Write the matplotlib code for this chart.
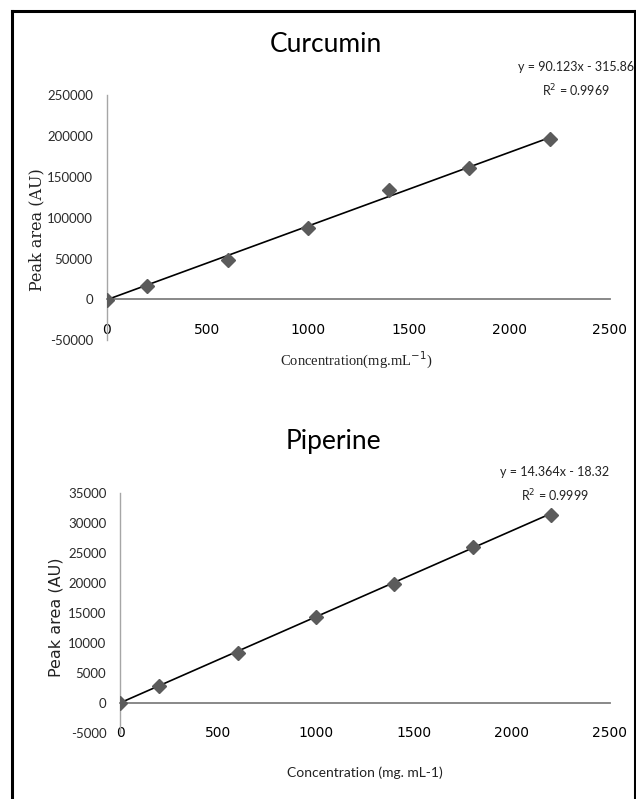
import numpy as np
import matplotlib
matplotlib.use("Agg")
import matplotlib.pyplot as plt
from matplotlib.lines import Line2D

# Curcumin calibration data
conc = [0, 200, 600, 1000, 1400, 1800, 2200]
curcumin_area = [-1000, 16300, 48100, 86900, 133800, 160300, 195800]
curcumin_fit = (90.123, -315.86)
curcumin_r2 = "0.9969"

# Piperine calibration data
piperine_area = [0, 2780, 8310, 14380, 19750, 25960, 31330]
piperine_fit = (14.364, -18.32)
piperine_r2 = "0.9999"

curcumin_yticks = [-50000, 0, 50000, 100000, 150000, 200000, 250000]
piperine_yticks = [-5000, 0, 5000, 10000, 15000, 20000, 25000, 30000, 35000]
xticks = [0, 500, 1000, 1500, 2000, 2500]

tick_font = ["Liberation Sans Narrow", "Lato", "DejaVu Sans"]
calibri = ["Lato", "DejaVu Sans"]

fig = plt.figure(figsize=(6.36, 7.99), dpi=100)


def draw_panel(rect, x, y, fit, r2, yticks, title, title_xy, eq_xy, ylabel_cfg, xlabel_cfg):
    ax = fig.add_axes(rect)
    slope, icpt = fit
    xs = np.array(x)
    ax.plot(xs, slope * xs + icpt, color="black", lw=1.2, zorder=3)
    ax.plot(x, y, "D", color="#5b5b5b", markersize=7, zorder=4)
    ax.set_xlim(0, 2500)
    ax.set_ylim(yticks[0], yticks[-1])
    ax.set_xticks(xticks)
    ax.set_yticks(yticks)
    ax.set_xticklabels([str(t) for t in xticks], family=tick_font, fontsize=9.5, color="#2a2a2a")
    ax.set_yticklabels([str(t) for t in yticks], family=tick_font, fontsize=9.5, color="#2a2a2a")
    ax.tick_params(axis="x", length=0, pad=17)
    ax.tick_params(axis="y", length=0, pad=10)
    for s in ["top", "right"]:
        ax.spines[s].set_visible(False)
    ax.spines["bottom"].set_position(("data", 0))
    ax.spines["bottom"].set_color("#7f7f7f")
    ax.spines["bottom"].set_linewidth(1.3)
    ax.spines["left"].set_color("#a6a6a6")
    ax.spines["left"].set_linewidth(1.0)
    ax.patch.set_alpha(0)

    fig.text(title_xy[0], title_xy[1], title, ha="center", va="center",
             fontsize=19, family=calibri)
    sign = "-" if icpt < 0 else "+"
    fig.text(eq_xy[0], eq_xy[1], f"y = {slope}x {sign} {abs(icpt)}", ha="center",
             va="center", fontsize=9, family=tick_font, color="#222222")
    fig.text(eq_xy[0], eq_xy[1] - 0.029, f"R$^2$ = {r2}", ha="center",
             va="center", fontsize=9, family=tick_font, color="#222222")
    fig.text(*ylabel_cfg[0], ylabel_cfg[1], rotation=90, ha="center", va="center",
             fontsize=ylabel_cfg[3], family=ylabel_cfg[2], color="#222222")
    fig.text(*xlabel_cfg[0], xlabel_cfg[1], ha="center", va="center",
             fontsize=xlabel_cfg[3], family=xlabel_cfg[2], color="#222222")
    return ax


draw_panel([0.168, 0.574, 0.791, 0.307], conc, curcumin_area, curcumin_fit, curcumin_r2,
           curcumin_yticks, "Curcumin", (0.512, 0.944), (0.905, 0.916),
           ((0.058, 0.712), "Peak area (AU)", ["DejaVu Serif"], 11.5),
           ((0.56, 0.549), "Concentration(mg.mL$^{-1}$)", ["Liberation Serif"], 10.5))

draw_panel([0.189, 0.083, 0.770, 0.300], conc, piperine_area, piperine_fit, piperine_r2,
           piperine_yticks, "Piperine", (0.524, 0.447), (0.872, 0.409),
           ((0.088, 0.228), "Peak area (AU)", ["DejaVu Sans"], 11.5),
           ((0.573, 0.033), "Concentration (mg. mL-1)", tick_font, 10))

# black frame around the figure (no bottom edge)
fig.add_artist(Line2D([12 / 636, 12 / 636], [0, 1 - 11 / 799], color="black", lw=2.2))
fig.add_artist(Line2D([12 / 636, 1], [1 - 11 / 799, 1 - 11 / 799], color="black", lw=2.2))
fig.add_artist(Line2D([634.5 / 636, 634.5 / 636], [0, 1 - 11 / 799], color="black", lw=2.2))

fig.savefig("out.png", dpi=100)
